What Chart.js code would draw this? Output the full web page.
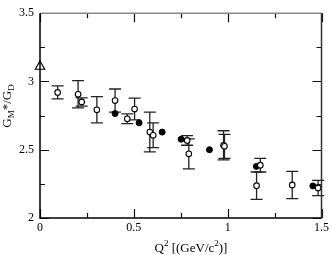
<!DOCTYPE html>
<html>
<head>
<meta charset="utf-8">
<script src="https://cdn.jsdelivr.net/npm/chart.js@4/dist/chart.umd.min.js"></script>
<style>
  html, body { margin: 0; padding: 0; background: #fff; }
</style>
</head>
<body>
<canvas id="chart" width="332" height="255"></canvas>
<script>
// open circles with error bars
const openQ2  = [0.094, 0.203, 0.222, 0.303, 0.400, 0.465, 0.504, 0.585, 0.603, 0.784, 0.793, 0.978, 0.983, 1.154, 1.174, 1.344, 1.482];
const openG   = [2.920, 2.906, 2.850, 2.793, 2.860, 2.727, 2.798, 2.630, 2.606, 2.568, 2.470, 2.532, 2.525, 2.237, 2.387, 2.242, 2.220];
const openErr = [0.047, 0.100, 0.030, 0.096, 0.085, 0.036, 0.080, 0.145, 0.090, 0.035, 0.110, 0.107, 0.088, 0.100, 0.050, 0.100, 0.056];

// filled circles
const fullQ2 = [0.400, 0.528, 0.651, 0.752, 0.903, 1.153, 1.454];
const fullG  = [2.765, 2.697, 2.629, 2.577, 2.500, 2.378, 2.235];

// triangle at the photon point
const triQ2 = [0];
const triG  = [3.11];

const xMajor = [0, 0.5, 1, 1.5];
const xMinor = [0.25, 0.75, 1.25];
const yMajor = [2, 2.5, 3, 3.5];
const yMinor = [2.25, 2.75, 3.25];

const serif = "'Liberation Serif', 'Times New Roman', serif";

const toPts = (xs, ys) => xs.map((x, i) => ({ x: x, y: ys[i] }));

const errorBars = {
    id: 'errorBars',
    beforeDatasetsDraw(chart) {
        const { ctx, scales: { x, y } } = chart;
        ctx.save();
        ctx.strokeStyle = '#222';
        ctx.lineWidth = 1.3;
        openQ2.forEach((q, i) => {
            const px = x.getPixelForValue(q);
            const top = y.getPixelForValue(openG[i] + openErr[i]);
            const bot = y.getPixelForValue(openG[i] - openErr[i]);
            ctx.beginPath();
            ctx.moveTo(px, top); ctx.lineTo(px, bot);
            ctx.moveTo(px - 6, top); ctx.lineTo(px + 6, top);
            ctx.moveTo(px - 6, bot); ctx.lineTo(px + 6, bot);
            ctx.stroke();
        });
        ctx.restore();
    }
};

const frame = {
    id: 'frame',
    afterDraw(chart) {
        const { ctx, chartArea: a, scales: { x, y } } = chart;
        ctx.save();
        ctx.lineWidth = 1.2;
        // ticks on all four sides, pointing inward
        ctx.strokeStyle = '#111';
        ctx.beginPath();
        xMajor.concat(xMinor).forEach(v => {
            const len = xMajor.includes(v) ? 9 : 5;
            const px = Math.round(x.getPixelForValue(v)) + 0.5;
            ctx.moveTo(px, a.bottom); ctx.lineTo(px, a.bottom - len);
            ctx.moveTo(px, a.top); ctx.lineTo(px, a.top + len);
        });
        yMajor.concat(yMinor).forEach(v => {
            const len = yMajor.includes(v) ? 9 : 5;
            const py = Math.round(y.getPixelForValue(v)) + 0.5;
            ctx.moveTo(a.left, py); ctx.lineTo(a.left + len, py);
            ctx.moveTo(a.right, py); ctx.lineTo(a.right - len, py);
        });
        ctx.stroke();
        // box
        ctx.lineWidth = 1.5;
        ctx.strokeStyle = '#888';
        ctx.beginPath();
        ctx.moveTo(a.left, a.top); ctx.lineTo(a.right, a.top);
        ctx.stroke();
        ctx.strokeStyle = '#333';
        ctx.beginPath();
        ctx.moveTo(a.right, a.top); ctx.lineTo(a.right, a.bottom);
        ctx.stroke();
        ctx.strokeStyle = '#000';
        ctx.beginPath();
        ctx.moveTo(a.left, a.top); ctx.lineTo(a.left, a.bottom); ctx.lineTo(a.right, a.bottom);
        ctx.stroke();

        // axis titles
        ctx.fillStyle = '#000';
        ctx.textBaseline = 'alphabetic';
        ctx.textAlign = 'left';
        // x title: Q^2 [(GeV/c^2)]
        const xParts = [['Q', 0], ['2', 1], [' [(GeV/c', 0], ['2', 1], [')]', 0]];
        drawParts(ctx, xParts, 191, 252, 0);
        // y title: G_M*/G_D
        const yParts = [['G', 0], ['M', -1], ['*/G', 0], ['D', -1]];
        drawParts(ctx, yParts, 11, 106, -Math.PI / 2);
        ctx.restore();
    }
};

function drawParts(ctx, parts, cx, cy, rot) {
    const big = '13px ' + serif, small = '9px ' + serif;
    let w = 0;
    parts.forEach(([t, s]) => { ctx.font = s ? small : big; w += ctx.measureText(t).width; });
    ctx.save();
    ctx.translate(cx, cy);
    ctx.rotate(rot);
    let xx = -w / 2;
    parts.forEach(([t, s]) => {
        ctx.font = s ? small : big;
        const dy = s === 1 ? -6 : (s === -1 ? 3 : 0);
        ctx.fillText(t, xx, dy);
        xx += ctx.measureText(t).width;
    });
    ctx.restore();
}

new Chart(document.getElementById('chart').getContext('2d'), {
    type: 'scatter',
    data: {
        datasets: [
            {
                data: toPts(openQ2, openG),
                pointStyle: 'circle', pointRadius: 2.8,
                backgroundColor: '#fff', borderColor: '#000', borderWidth: 1.1
            },
            {
                data: toPts(fullQ2, fullG),
                pointStyle: 'circle', pointRadius: 3,
                backgroundColor: '#000', borderColor: '#000', borderWidth: 1
            },
            {
                data: toPts(triQ2, triG),
                pointStyle: 'triangle', pointRadius: 5.5,
                backgroundColor: '#fff', borderColor: '#000', borderWidth: 1.1,
                clip: false
            }
        ]
    },
    options: {
        responsive: false,
        animation: false,
        events: [],
        layout: { padding: { top: 5, right: 10, left: 0, bottom: 0 } },
        plugins: { legend: { display: false }, tooltip: { enabled: false } },
        scales: {
            x: {
                type: 'linear', min: 0, max: 1.5,
                grid: { display: false, drawTicks: false },
                border: { display: false },
                ticks: {
                    stepSize: 0.5, padding: 3, color: '#000',
                    font: { family: serif, size: 12 },
                    callback: v => String(v)
                },
                afterFit(scale) { scale.height = 37; }
            },
            y: {
                type: 'linear', min: 2, max: 3.5,
                grid: { display: false, drawTicks: false },
                border: { display: false },
                ticks: {
                    stepSize: 0.5, padding: 6, color: '#000',
                    font: { family: serif, size: 12 },
                    callback: v => String(v)
                },
                afterFit(scale) { scale.width = 40; }
            }
        }
    },
    plugins: [errorBars, frame]
});
</script>
</body>
</html>
